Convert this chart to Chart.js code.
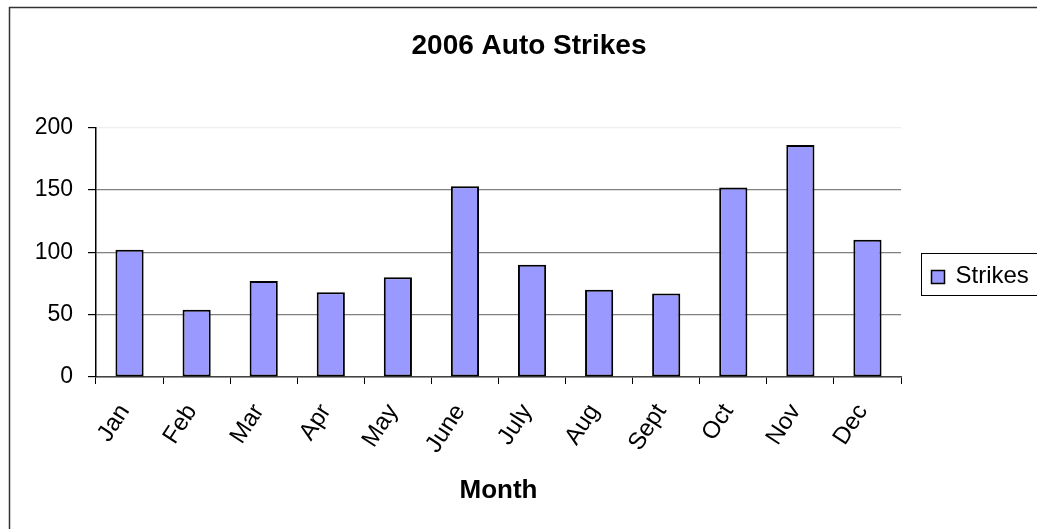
<!DOCTYPE html>
<html>
<head>
<meta charset="utf-8">
<title>2006 Auto Strikes</title>
<script src="https://cdn.jsdelivr.net/npm/chart.js@4.4.1/dist/chart.umd.min.js"></script>
<style>
    html, body { margin: 0; padding: 0; background: #ffffff; }
    #wrap { width: 1037px; height: 529px; position: relative; }
</style>
</head>
<body>
<div id="wrap"><canvas id="strikes-chart"></canvas></div>
<script>
const months = ['Jan', 'Feb', 'Mar', 'Apr', 'May', 'June', 'July', 'Aug', 'Sept', 'Oct', 'Nov', 'Dec'];
const strikes = [102, 54, 77, 68, 80, 153, 90, 70, 67, 152, 186, 110];
const yTicks = [0, 50, 100, 150, 200];

const BAR_FILL = '#9999ff';
const FONT = 'Arial, "Liberation Sans", sans-serif';

// Frame around the whole chart (open to the right and bottom edges)
const framePlugin = {
    id: 'frame',
    beforeDraw(chart) {
        const ctx = chart.ctx;
        ctx.save();
        ctx.fillStyle = '#ffffff';
        ctx.fillRect(0, 0, chart.width, chart.height);
        ctx.strokeStyle = '#333333';
        ctx.lineWidth = 1.5;
        ctx.strokeRect(9.5, 7.5, chart.width + 20, chart.height + 20);
        ctx.restore();
    }
};

// Boxed legend to the right of the plot
const boxLegendPlugin = {
    id: 'boxLegend',
    afterDraw(chart) {
        const ctx = chart.ctx;
        const area = chart.chartArea;
        const ds = chart.data.datasets[0];
        const left = area.right + 20.5;
        const top = 253.5;
        ctx.save();
        ctx.strokeStyle = '#000000';
        ctx.lineWidth = 1;
        ctx.strokeRect(left, top, 140, 42);
        ctx.fillStyle = ds.backgroundColor;
        ctx.fillRect(left + 10, top + 17, 13, 13);
        ctx.lineWidth = 1.5;
        ctx.strokeRect(left + 10, top + 17, 13, 13);
        ctx.fillStyle = '#000000';
        ctx.font = '24px ' + FONT;
        ctx.textBaseline = 'middle';
        ctx.fillText(ds.label, left + 34, top + 23);
        ctx.restore();
    }
};

const ctx = document.getElementById('strikes-chart').getContext('2d');
const strikesChart = new Chart(ctx, {
    type: 'bar',
    data: {
        labels: months,
        datasets: [{
            label: 'Strikes',
            data: strikes,
            backgroundColor: BAR_FILL,
            borderColor: '#000000',
            borderWidth: 2,
            borderSkipped: false,
            barPercentage: 0.42,
            categoryPercentage: 1.0,
        }],
    },
    options: {
        responsive: true,
        maintainAspectRatio: false,
        animation: false,
        layout: {
            padding: { top: 0, left: 21, right: 0, bottom: 0 },
        },
        plugins: {
            legend: { display: false },
            tooltip: { enabled: false },
            title: {
                display: true,
                text: '2006 Auto Strikes',
                color: '#000000',
                font: { family: FONT, size: 28, weight: 'bold' },
                padding: { top: 29, bottom: 65 },
            },
        },
        scales: {
            x: {
                offset: true,
                grid: {
                    offset: true,
                    drawOnChartArea: false,
                    drawTicks: true,
                    tickLength: 7,
                    tickColor: '#000000',
                },
                border: { color: '#444444', width: 1.5 },
                ticks: {
                    color: '#000000',
                    font: { family: FONT, size: 24 },
                    minRotation: 57,
                    maxRotation: 57,
                    autoSkip: false,
                    padding: 15,
                    labelOffset: -5,
                },
                title: {
                    display: true,
                    text: 'Month',
                    color: '#000000',
                    font: { family: FONT, size: 26, weight: 'bold' },
                    padding: { top: 0, bottom: 23 },
                },
                afterFit(scale) {
                    scale.height = 152;
                },
            },
            y: {
                min: 0,
                max: 200,
                afterBuildTicks(scale) {
                    scale.ticks = yTicks.map(v => ({ value: v }));
                },
                grid: {
                    color: c => (c.tick && c.tick.value === 200 ? '#eeeeee' : '#808080'),
                    lineWidth: 1.2,
                    tickLength: 8,
                    tickColor: '#000000',
                },
                border: { color: '#000000', width: 1.5 },
                ticks: {
                    color: '#000000',
                    font: { family: FONT, size: 23 },
                    padding: 15,
                },
                afterFit(scale) {
                    scale.width = 75;
                },
            },
            // empty right-hand axis that reserves room for the legend
            yRight: {
                position: 'right',
                display: true,
                grid: { display: false },
                border: { display: false },
                ticks: { display: false },
                afterFit(scale) {
                    scale.width = 136;
                },
            },
        },
    },
    plugins: [framePlugin, boxLegendPlugin],
});
</script>
</body>
</html>
